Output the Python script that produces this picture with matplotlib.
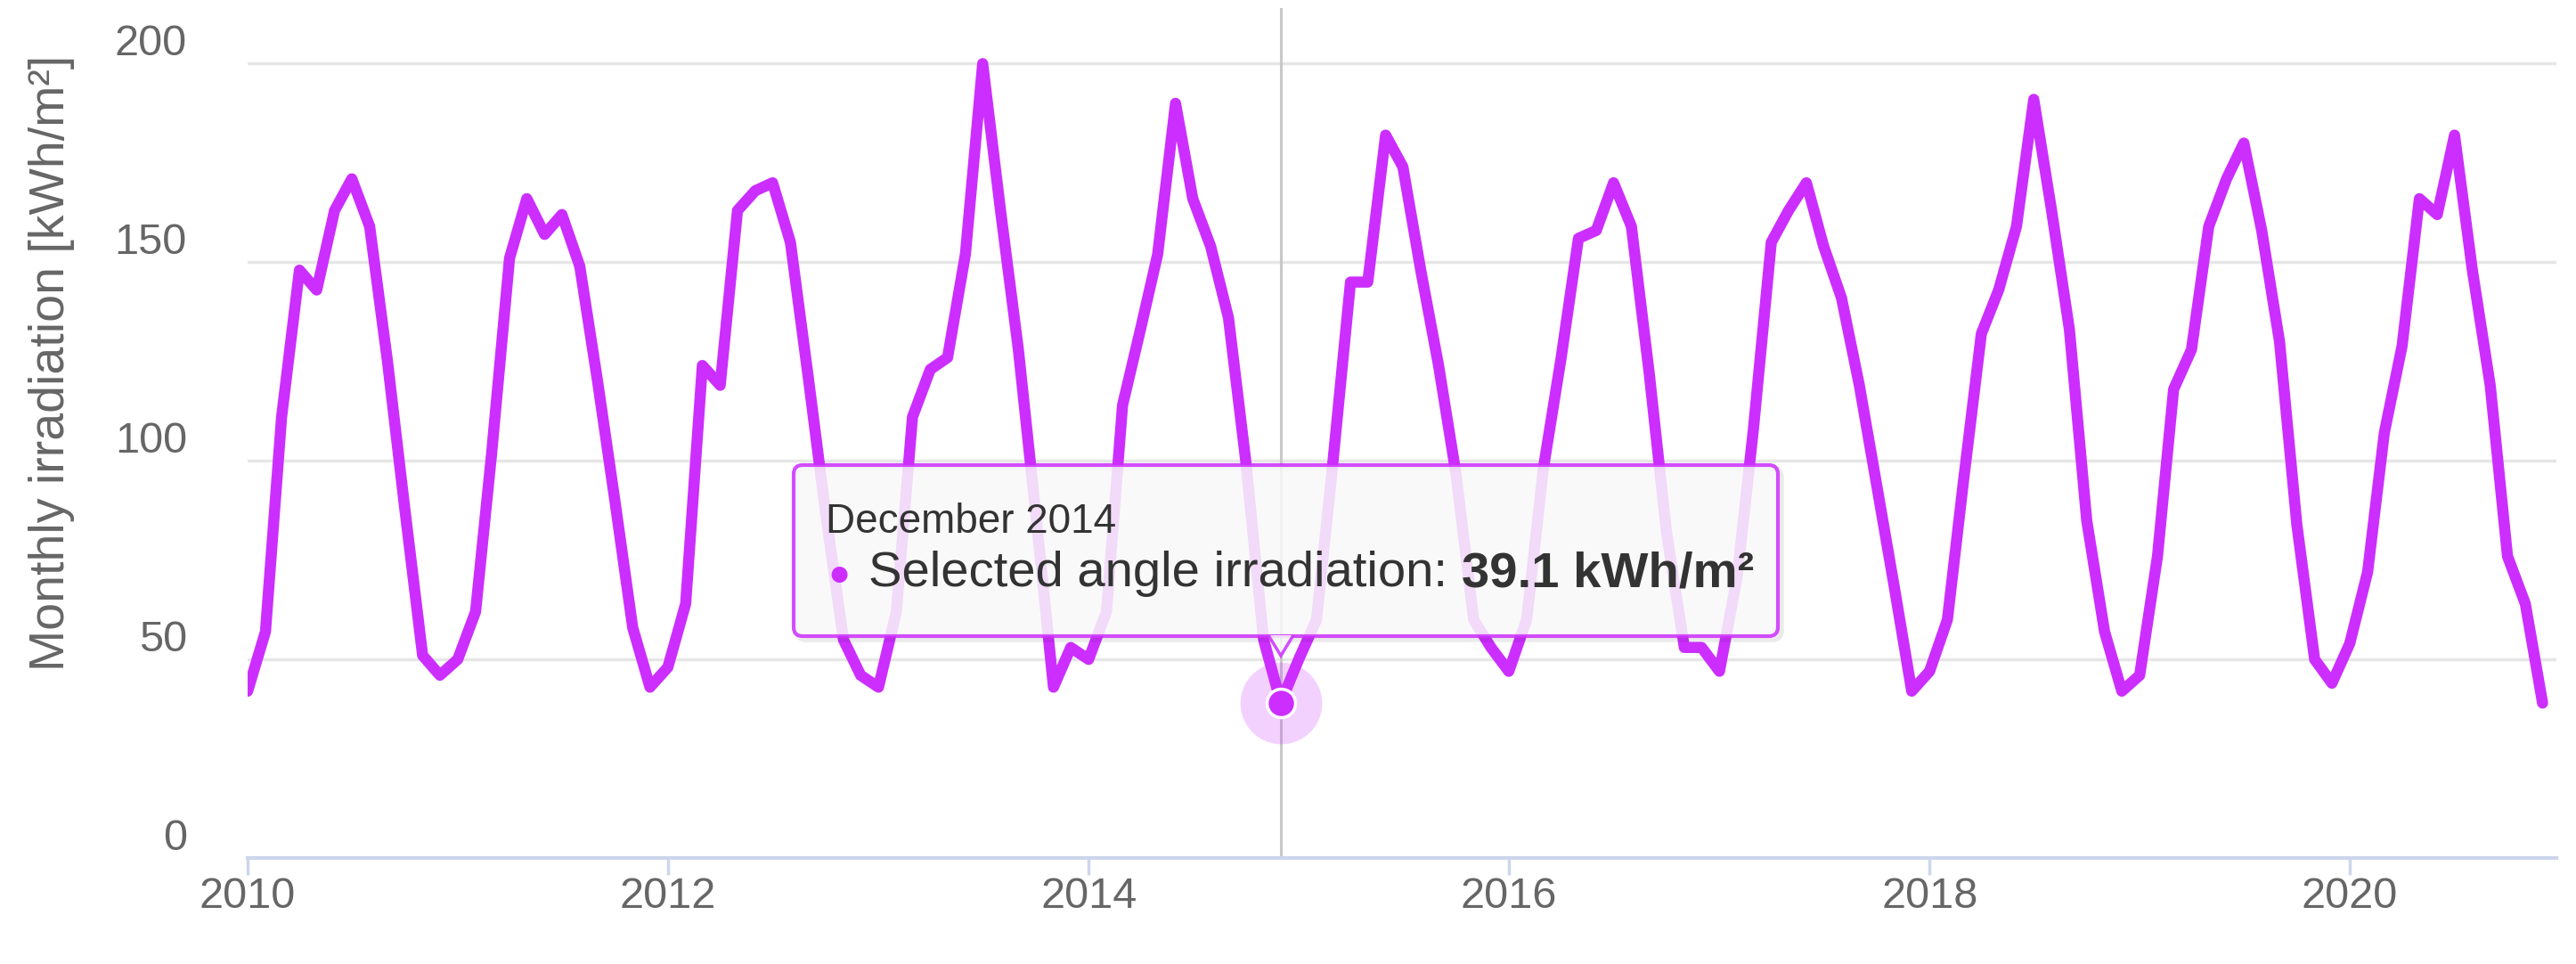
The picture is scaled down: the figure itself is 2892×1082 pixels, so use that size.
import matplotlib
matplotlib.use('Agg')
import matplotlib.pyplot as plt
import matplotlib.dates as mdates
from matplotlib.patches import FancyBboxPatch, Polygon
from matplotlib.transforms import ScaledTranslation, IdentityTransform
import pandas as pd

plt.rcParams['font.family'] = ['Liberation Sans', 'DejaVu Sans']

# monthly irradiation on the selected angle, kWh/m2, Jan 2010 .. Dec 2020
start_month = '2010-01'
irradiation = [
    42, 57, 111, 148, 143, 163, 171, 159, 125, 88, 51, 46,      # 2010
    50, 62, 102, 151, 166, 157, 162, 149, 120, 90, 58, 43,      # 2011
    48, 64, 124, 119, 163, 168, 170, 155, 121, 87, 55, 46,      # 2012
    43, 62, 111, 123, 126, 152, 200, 163, 128, 87, 43, 53,      # 2013
    50, 62, 114, 133, 152, 190, 166, 154, 136, 100, 55, 39.1,   # 2014
    50, 60, 99, 145, 145, 182, 174, 148, 124, 97, 60, 53,       # 2015
    47, 60, 98, 126, 156, 158, 170, 159, 122, 82, 53, 53,       # 2016
    47, 71, 108, 155, 163, 170, 154, 141, 119, 94, 68, 42,      # 2017
    47, 60, 95, 132, 143, 159, 191, 163, 133, 85, 57, 42,       # 2018
    46, 76, 118, 128, 159, 171, 180, 158, 130, 84, 50, 44,      # 2019
    54, 72, 107, 129, 166, 162, 182, 148, 119, 76, 64, 39,      # 2020
]
y_ticks = [0, 50, 100, 150, 200]
x_tick_years = [2010, 2012, 2014, 2016, 2018, 2020]
selected_month = '2014-12'
series_name = 'Selected angle irradiation'
unit = 'kWh/m²'

LINE = '#cc2eff'
GRID = '#e6e6e6'
AXIS = '#ccd6eb'
LABEL = '#666666'
TEXT = '#333333'

W, H = 2892, 1082
fig = plt.figure(figsize=(W / 100, H / 100), dpi=100)
ax = fig.add_axes([278 / W, 1 - 963 / H, (2870 - 278) / W, (963 - 9) / H])

months = pd.date_range(start_month, periods=len(irradiation), freq='MS')
sel = months.get_loc(pd.Timestamp(selected_month))
sel_x, sel_y = months[sel], irradiation[sel]

ax.plot(months, irradiation, color=LINE, lw=9, solid_joinstyle='round',
        solid_capstyle='round', zorder=3)

# hover crosshair and highlighted point
ax.axvline(sel_x, color='#c8c8c8', lw=2.2, zorder=2)
ax.plot(sel_x, sel_y, 'o', ms=66, color=LINE, alpha=0.22, mew=0, zorder=4)
ax.plot(sel_x, sel_y, 'o', ms=23, color=LINE, mec='white', mew=2.5, zorder=5)

ax.set_ylim(0, 214)
ax.set_xlim(months[0], months[-1] + pd.Timedelta(days=24))
ax.set_yticks(y_ticks)
ax.set_xticks([pd.Timestamp(f'{y}-01-01') for y in x_tick_years])
ax.xaxis.set_major_formatter(mdates.DateFormatter('%Y'))

ax.grid(axis='y', color=GRID, lw=2.5, zorder=0)
ax.set_axisbelow(True)
for s in ['top', 'right', 'left']:
    ax.spines[s].set_visible(False)
ax.spines['bottom'].set_color(AXIS)
ax.spines['bottom'].set_linewidth(3)
ax.get_ygridlines()[0].set_visible(False)

ax.tick_params(axis='y', length=0, pad=49, labelsize=35, labelcolor=LABEL)
ax.tick_params(axis='x', length=14, width=2.5, color=AXIS, pad=1,
               labelsize=35, labelcolor=LABEL)
for lbl in ax.get_yticklabels():
    lbl.set_transform(lbl.get_transform() + ScaledTranslation(0, 0.27, fig.dpi_scale_trans))

ax.set_ylabel('Monthly irradiation [kWh/m²]', fontsize=40, color=LABEL)
ax.yaxis.set_label_coords(-0.075, 0.582)

# tooltip
px = IdentityTransform()
box_x0, box_x1, box_top, box_bot = 891, 1996, 522, 714
bw, bh = box_x1 - box_x0, box_bot - box_top
shadow = FancyBboxPatch((box_x0 + 4, H - box_bot - 4), bw, bh,
                        boxstyle='round,pad=0,rounding_size=10', transform=px,
                        fc='none', ec='#000000', lw=4, alpha=0.08, zorder=9)
box = FancyBboxPatch((box_x0, H - box_bot), bw, bh,
                     boxstyle='round,pad=0,rounding_size=10', transform=px,
                     fc='#f9f9f9', ec=LINE, lw=3, alpha=0.85, zorder=10)
fig.add_artist(shadow)
fig.add_artist(box)
tail_x = ax.transData.transform((mdates.date2num(sel_x), 0))[0]
tail = Polygon([(tail_x - 14, H - box_bot + 1), (tail_x, H - box_bot - 22),
                (tail_x + 14, H - box_bot + 1)],
               closed=False, transform=px, fc='#f9f9f9', ec=LINE, lw=2.5,
               alpha=0.85, zorder=10)
fig.add_artist(tail)

fig.text(927 / W, 1 - 598 / H, sel_x.strftime('%B %Y'), fontsize=33,
         color=TEXT, va='baseline', zorder=11)
fig.text(942 / W, 1 - 646 / H, '●', fontsize=30, color=LINE, ha='center',
         va='center', zorder=11)
t1 = fig.text(975 / W, 1 - 658 / H, f'{series_name}: ', fontsize=40.5,
              color=TEXT, va='baseline', zorder=11)
renderer = fig.canvas.get_renderer()
t1_right = t1.get_window_extent(renderer).x1
fig.text(t1_right / W, 1 - 658 / H, f'{sel_y} {unit}', fontsize=40.5,
         fontweight='bold', color=TEXT, va='baseline', zorder=11)

fig.savefig('out.png', dpi=100, facecolor='white')
